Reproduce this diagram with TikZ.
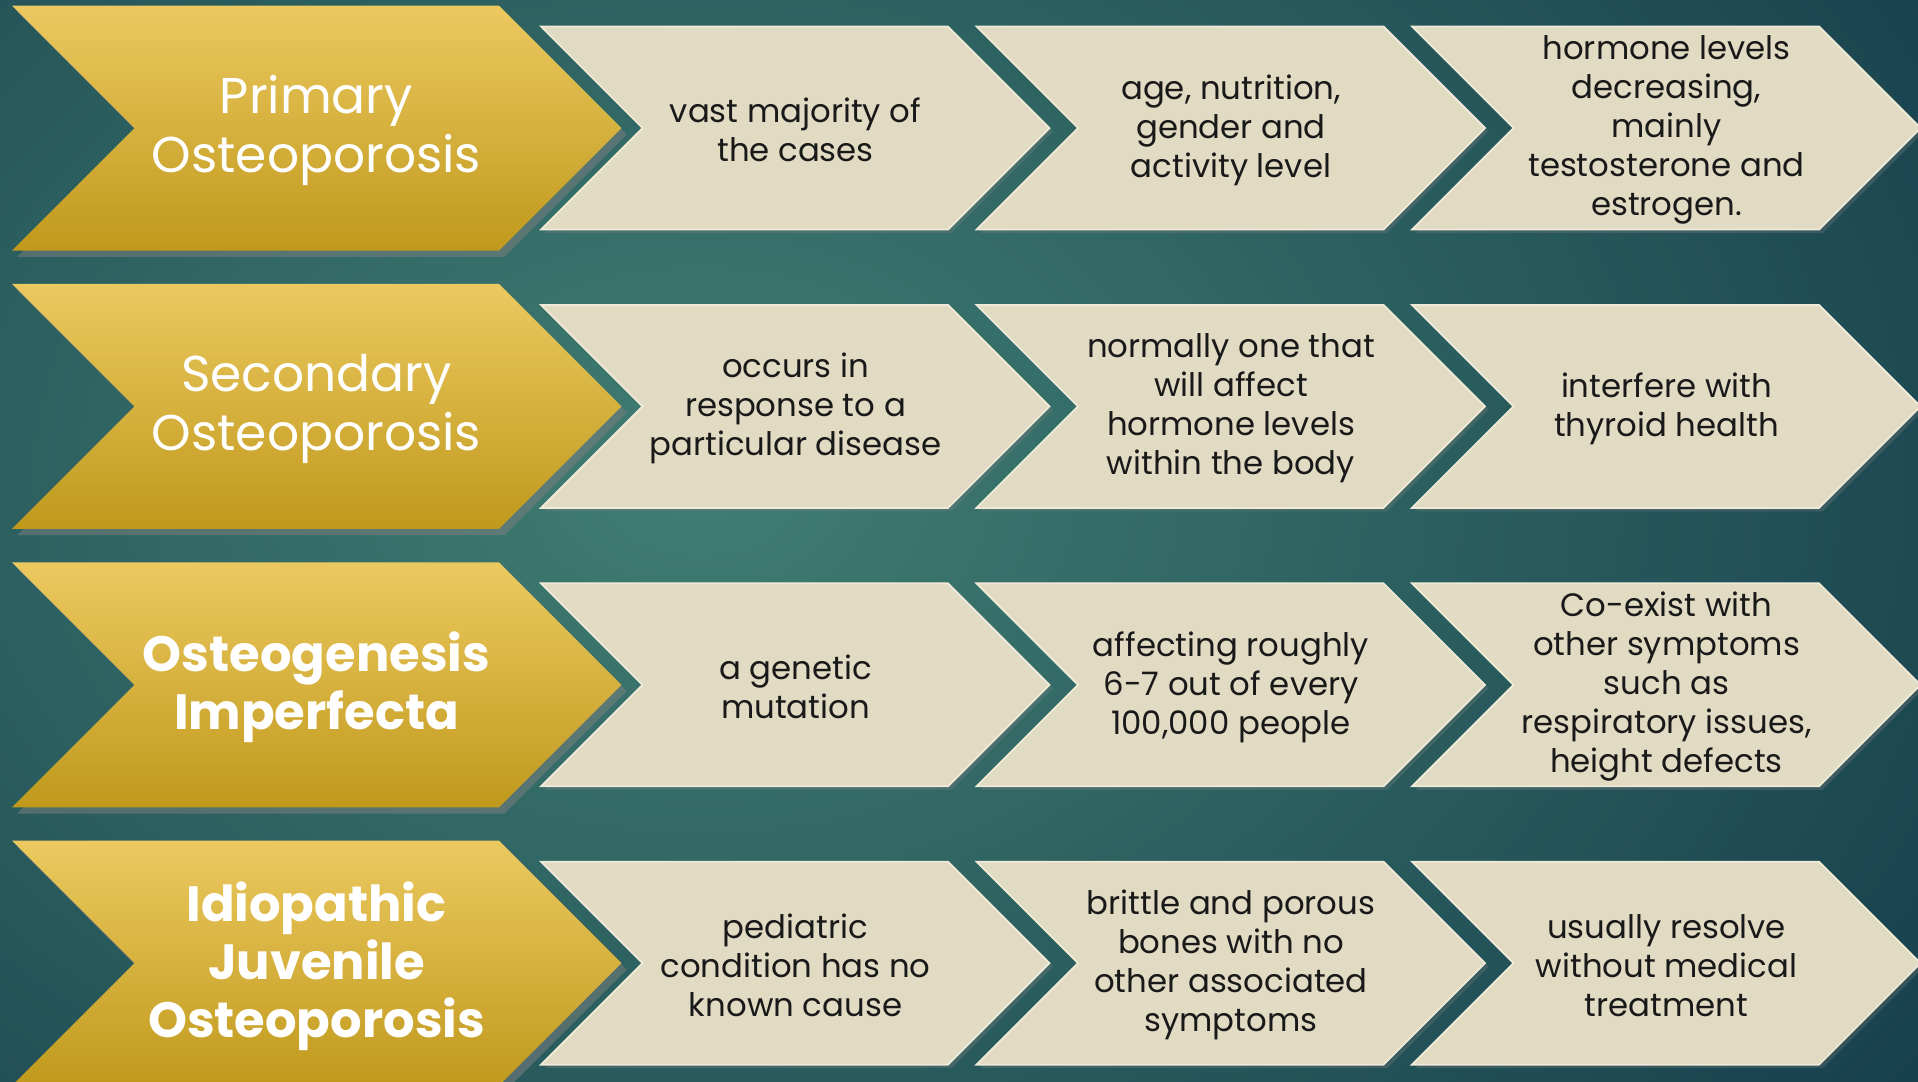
\documentclass[tikz,border=0pt]{standalone}
\usepackage{fontspec}
\setmainfont{Poppins}
\usetikzlibrary{shadows}

\definecolor{bgdark}{RGB}{22,62,76}
\definecolor{bglight}{RGB}{64,126,114}
\definecolor{goldtop}{RGB}{236,201,96}
\definecolor{goldbot}{RGB}{192,153,28}
\definecolor{beige}{RGB}{226,219,196}
\definecolor{beigeedge}{RGB}{240,234,216}

% arrow outline: left x, centre y, flat length, half height
\newcommand{\arrowshape}[4]{(#1,#2-#4) -- ++(#3,0) -- ++(#4,#4) -- ++(-#4,#4) -- ++(-#3,0) -- ++(#4,-#4) -- cycle}

\tikzset{
  goldarrow/.style={top color=goldtop, bottom color=goldbot,
    drop shadow={shadow xshift=1.5pt, shadow yshift=-1.8pt, opacity=0.5}},
  beigearrow/.style={fill=beige, draw=beigeedge, line width=0.5pt,
    drop shadow={shadow xshift=1pt, shadow yshift=-1pt, opacity=0.3}},
  headtext/.style={text=white, align=center, yshift=-0.8pt, font=\fontsize{14.3}{16.8}\selectfont},
  headbold/.style={headtext, font=\fontsize{14.1}{16.5}\selectfont\bfseries},
  celltext/.style={text=black!90, align=center, yshift=-0.6pt, font=\fontsize{9.2}{11.1}\selectfont}
}

\begin{document}
\begin{tikzpicture}[x=0.01cm, y=-0.01cm]
  \useasboundingbox (0,0) rectangle (1918,1081);
  % background
  \fill[bgdark] (0,0) rectangle (1918,1081);
  \begin{scope}
    \clip (0,0) rectangle (1918,1081);
    \shade[inner color=bglight, outer color=bgdark] (700,480) ellipse (1500 and 1100);
  \end{scope}

  % row 1
  \shade[goldarrow] \arrowshape{12}{128}{487}{122.5};
  \path[beigearrow] \arrowshape{541}{128}{407}{101.5};
  \path[beigearrow] \arrowshape{976.5}{128}{407}{101.5};
  \path[beigearrow] \arrowshape{1412}{128}{407}{101.5};
  \node[headtext] (prim) at (316.5,128) {Primary\\Osteoporosis};
  \node[celltext] (prima) at (795.5,128) {vast majority of\\the cases};
  \node[celltext] (primb) at (1231,128) {age, nutrition,\\gender and\\activity level};
  \node[celltext] (primc) at (1666.5,128) {hormone levels\\decreasing,\\mainly\\testosterone and\\estrogen.};

  % row 2
  \shade[goldarrow] \arrowshape{12}{406.4}{487}{122.5};
  \path[beigearrow] \arrowshape{541}{406.4}{407}{101.5};
  \path[beigearrow] \arrowshape{976.5}{406.4}{407}{101.5};
  \path[beigearrow] \arrowshape{1412}{406.4}{407}{101.5};
  \node[headtext] (sec) at (316.5,406.4) {Secondary\\Osteoporosis};
  \node[celltext] (seca) at (795.5,406.4) {occurs in\\response to a\\particular disease};
  \node[celltext] (secb) at (1231,406.4) {normally one that\\will affect\\hormone levels\\within the body};
  \node[celltext] (secc) at (1666.5,406.4) {interfere with\\thyroid health};

  % row 3
  \shade[goldarrow] \arrowshape{12}{684.8}{487}{122.5};
  \path[beigearrow] \arrowshape{541}{684.8}{407}{101.5};
  \path[beigearrow] \arrowshape{976.5}{684.8}{407}{101.5};
  \path[beigearrow] \arrowshape{1412}{684.8}{407}{101.5};
  \node[headbold] (oi) at (316.5,684.8) {Osteogenesis\\Imperfecta};
  \node[celltext] (oia) at (795.5,684.8) {a genetic\\mutation};
  \node[celltext] (oib) at (1231,684.8) {affecting roughly\\6-7 out of every\\100,000 people};
  \node[celltext] (oic) at (1666.5,684.8) {Co-exist with\\other symptoms\\such as\\respiratory issues,\\height defects};

  % row 4
  \shade[goldarrow] \arrowshape{12}{963.2}{487}{122.5};
  \path[beigearrow] \arrowshape{541}{963.2}{407}{101.5};
  \path[beigearrow] \arrowshape{976.5}{963.2}{407}{101.5};
  \path[beigearrow] \arrowshape{1412}{963.2}{407}{101.5};
  \node[headbold] (ijo) at (316.5,963.2) {Idiopathic\\Juvenile\\Osteoporosis};
  \node[celltext] (ijoa) at (795.5,963.2) {pediatric\\condition has no\\known cause};
  \node[celltext] (ijob) at (1231,963.2) {brittle and porous\\bones with no\\other associated\\symptoms};
  \node[celltext] (ijoc) at (1666.5,963.2) {usually resolve\\without medical\\treatment};
\end{tikzpicture}
\end{document}
